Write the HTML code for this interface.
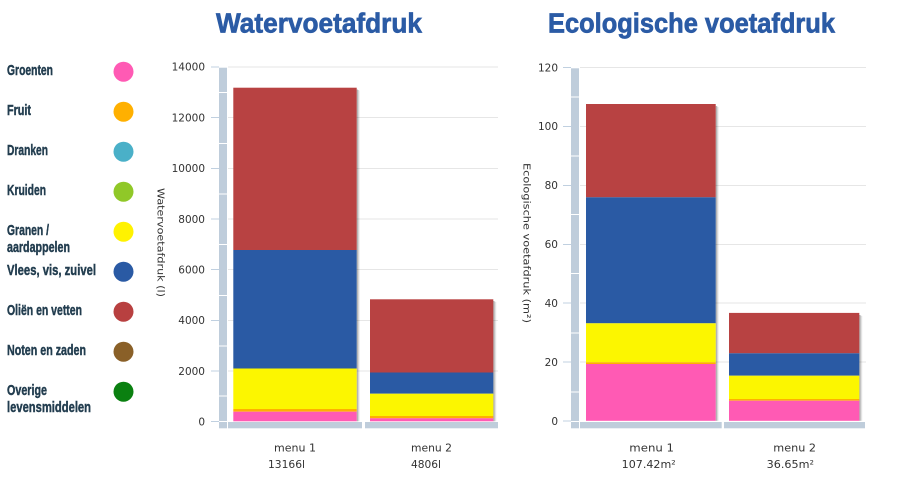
<!DOCTYPE html>
<html><head><meta charset="utf-8"><style>
html,body{margin:0;padding:0;background:#fff;}
svg{display:block;}
</style></head><body>
<svg width="916" height="495" viewBox="0 0 916 495" xmlns="http://www.w3.org/2000/svg">
<rect width="916" height="495" fill="#fff"/>
<!-- Titles -->
<g font-family="Liberation Sans, sans-serif" font-weight="bold" fill="#2b5ba5" stroke="#2b5ba5" stroke-width="0.7" font-size="28">
<text x="216" y="32.5" textLength="206" lengthAdjust="spacingAndGlyphs">Watervoetafdruk</text>
<text x="548" y="32.5" textLength="287" lengthAdjust="spacingAndGlyphs">Ecologische voetafdruk</text>
</g>
<!-- Legend -->
<g font-family="Liberation Sans, sans-serif" font-weight="bold" fill="#223d4f" stroke="#223d4f" stroke-width="0.45" font-size="15">
<text x="7" y="75" textLength="46" lengthAdjust="spacingAndGlyphs">Groenten</text>
<text x="7" y="115" textLength="24" lengthAdjust="spacingAndGlyphs">Fruit</text>
<text x="7" y="155" textLength="41" lengthAdjust="spacingAndGlyphs">Dranken</text>
<text x="7" y="195" textLength="39" lengthAdjust="spacingAndGlyphs">Kruiden</text>
<text x="7" y="235" textLength="42" lengthAdjust="spacingAndGlyphs">Granen /</text>
<text x="7" y="252" textLength="63" lengthAdjust="spacingAndGlyphs">aardappelen</text>
<text x="7" y="275" textLength="89" lengthAdjust="spacingAndGlyphs">Vlees, vis, zuivel</text>
<text x="7" y="315" textLength="75" lengthAdjust="spacingAndGlyphs">Oliën en vetten</text>
<text x="7" y="355" textLength="79" lengthAdjust="spacingAndGlyphs">Noten en zaden</text>
<text x="7" y="395" textLength="40" lengthAdjust="spacingAndGlyphs">Overige</text>
<text x="7" y="412" textLength="84" lengthAdjust="spacingAndGlyphs">levensmiddelen</text>
</g>
<g>
<circle cx="123.5" cy="71.7" r="10" fill="#ff5ab4"/>
<circle cx="123.5" cy="111.7" r="10" fill="#ffb000"/>
<circle cx="123.5" cy="151.7" r="10" fill="#4ab0c8"/>
<circle cx="123.5" cy="191.7" r="10" fill="#90c828"/>
<circle cx="123.5" cy="231.7" r="10" fill="#fff200"/>
<circle cx="123.5" cy="271.7" r="10" fill="#2a5aa4"/>
<circle cx="123.5" cy="311.7" r="10" fill="#b84040"/>
<circle cx="123.5" cy="351.7" r="10" fill="#8a6028"/>
<circle cx="123.5" cy="391.7" r="10" fill="#0a8010"/>
</g>

<!-- ===== Chart 1 ===== -->
<g stroke="#e6e6e6" stroke-width="1">
<line x1="228" y1="67" x2="498" y2="67"/>
<line x1="228" y1="117.5" x2="498" y2="117.5"/>
<line x1="228" y1="168.5" x2="498" y2="168.5"/>
<line x1="228" y1="219" x2="498" y2="219"/>
<line x1="228" y1="269.5" x2="498" y2="269.5"/>
<line x1="228" y1="320.5" x2="498" y2="320.5"/>
<line x1="228" y1="371" x2="498" y2="371"/>
</g>
<g stroke="#c0d0e0" stroke-width="1">
<line x1="211" y1="67" x2="219" y2="67"/>
<line x1="211" y1="117.5" x2="219" y2="117.5"/>
<line x1="211" y1="168.5" x2="219" y2="168.5"/>
<line x1="211" y1="219" x2="219" y2="219"/>
<line x1="211" y1="269.5" x2="219" y2="269.5"/>
<line x1="211" y1="320.5" x2="219" y2="320.5"/>
<line x1="211" y1="371" x2="219" y2="371"/>
<line x1="211" y1="421.5" x2="219" y2="421.5"/>
</g>
<rect x="219" y="67.7" width="8" height="360.6" fill="#bfcddb"/>
<g fill="#fff">
<rect x="219" y="92" width="8" height="1"/>
<rect x="219" y="143" width="8" height="1"/>
<rect x="219" y="193.5" width="8" height="1"/>
<rect x="219" y="244" width="8" height="1"/>
<rect x="219" y="295" width="8" height="1"/>
<rect x="219" y="345.5" width="8" height="1"/>
<rect x="219" y="395.5" width="8" height="1"/>
<rect x="219" y="421" width="8" height="1"/>
</g>
<rect x="228" y="422" width="134" height="6.3" fill="#bfcddb"/>
<rect x="365" y="422" width="133" height="6.3" fill="#bfcddb"/>
<g font-family="DejaVu Sans, sans-serif" font-size="10.5" fill="#333" text-anchor="end">
<text x="205" y="70.7">14000</text>
<text x="205" y="121.5">12000</text>
<text x="205" y="172.2">10000</text>
<text x="205" y="222.8">8000</text>
<text x="205" y="273.5">6000</text>
<text x="205" y="324.2">4000</text>
<text x="205" y="374.8">2000</text>
<text x="205" y="425.5">0</text>
</g>
<text transform="translate(157.5,242.5) rotate(90)" font-family="DejaVu Sans, sans-serif" font-size="10" fill="#333" text-anchor="middle" textLength="109" lengthAdjust="spacingAndGlyphs">Watervoetafdruk (l)</text>
<!-- bar 1 -->
<rect x="356.7" y="89.5" width="1" height="331.8" fill="rgba(0,0,0,0.35)"/>
<rect x="357.7" y="90" width="1" height="331.3" fill="rgba(0,0,0,0.2)"/>
<rect x="358.7" y="90.5" width="1" height="330.8" fill="rgba(0,0,0,0.08)"/>
<rect x="233.3" y="87.7" width="123.4" height="162.3" fill="#b84242"/>
<rect x="233.3" y="250" width="123.4" height="118.5" fill="#2a5aa4"/>
<rect x="233.3" y="368.5" width="123.4" height="40.5" fill="#fcf600"/>
<rect x="233.3" y="409" width="123.4" height="2.7" fill="#ffb000"/>
<rect x="233.3" y="411.7" width="123.4" height="9.6" fill="#ff5ab4"/>
<!-- bar 2 -->
<rect x="493.3" y="301" width="1" height="120.3" fill="rgba(0,0,0,0.35)"/>
<rect x="494.3" y="301.5" width="1" height="119.8" fill="rgba(0,0,0,0.2)"/>
<rect x="495.3" y="302" width="1" height="119.3" fill="rgba(0,0,0,0.08)"/>
<rect x="370" y="299.3" width="123.3" height="73.2" fill="#b84242"/>
<rect x="370" y="372.5" width="123.3" height="21.2" fill="#2a5aa4"/>
<rect x="370" y="393.7" width="123.3" height="22.3" fill="#fcf600"/>
<rect x="370" y="416" width="123.3" height="2.3" fill="#ffb000"/>
<rect x="370" y="418.3" width="123.3" height="3" fill="#ff5ab4"/>
<g font-family="DejaVu Sans, sans-serif" font-size="11" fill="#333">
<text x="274" y="451.5" textLength="42" lengthAdjust="spacingAndGlyphs">menu 1</text>
<text x="268" y="468" textLength="37" lengthAdjust="spacingAndGlyphs">13166l</text>
<text x="411" y="451.5" textLength="41" lengthAdjust="spacingAndGlyphs">menu 2</text>
<text x="411" y="468" textLength="30" lengthAdjust="spacingAndGlyphs">4806l</text>
</g>

<!-- ===== Chart 2 ===== -->
<g stroke="#e6e6e6" stroke-width="1">
<line x1="580" y1="67.5" x2="866" y2="67.5"/>
<line x1="580" y1="126.5" x2="866" y2="126.5"/>
<line x1="580" y1="185.5" x2="866" y2="185.5"/>
<line x1="580" y1="244.5" x2="866" y2="244.5"/>
<line x1="580" y1="303" x2="866" y2="303"/>
<line x1="580" y1="362" x2="866" y2="362"/>
</g>
<g stroke="#c0d0e0" stroke-width="1">
<line x1="563" y1="67.5" x2="571" y2="67.5"/>
<line x1="563" y1="126.5" x2="571" y2="126.5"/>
<line x1="563" y1="185.5" x2="571" y2="185.5"/>
<line x1="563" y1="244.5" x2="571" y2="244.5"/>
<line x1="563" y1="303" x2="571" y2="303"/>
<line x1="563" y1="362" x2="571" y2="362"/>
<line x1="563" y1="421" x2="571" y2="421"/>
</g>
<rect x="571" y="68.3" width="8" height="360" fill="#bfcddb"/>
<g fill="#fff">
<rect x="571" y="96.5" width="8" height="1"/>
<rect x="571" y="155.5" width="8" height="1"/>
<rect x="571" y="214" width="8" height="1"/>
<rect x="571" y="273" width="8" height="1"/>
<rect x="571" y="332.5" width="8" height="1"/>
<rect x="571" y="391.5" width="8" height="1"/>
<rect x="571" y="421" width="8" height="1"/>
</g>
<rect x="580" y="422" width="141.7" height="6.3" fill="#bfcddb"/>
<rect x="724" y="422" width="141" height="6.3" fill="#bfcddb"/>
<g font-family="DejaVu Sans, sans-serif" font-size="10.5" fill="#333" text-anchor="end">
<text x="558" y="71.3">120</text>
<text x="558" y="130.2">100</text>
<text x="558" y="189.1">80</text>
<text x="558" y="248">60</text>
<text x="558" y="306.9">40</text>
<text x="558" y="365.8">20</text>
<text x="558" y="424.8">0</text>
</g>
<text transform="translate(523.5,243) rotate(90)" font-family="DejaVu Sans, sans-serif" font-size="10" fill="#333" text-anchor="middle" textLength="160" lengthAdjust="spacingAndGlyphs">Ecologische voetafdruk  (m²)</text>
<!-- bar 1 -->
<rect x="715.7" y="106" width="1" height="314.8" fill="rgba(0,0,0,0.35)"/>
<rect x="716.7" y="106.5" width="1" height="314.3" fill="rgba(0,0,0,0.2)"/>
<rect x="717.7" y="107" width="1" height="313.8" fill="rgba(0,0,0,0.08)"/>
<rect x="586" y="104" width="129.7" height="93.3" fill="#b84242"/>
<rect x="586" y="197.3" width="129.7" height="126" fill="#2a5aa4"/>
<rect x="586" y="323.3" width="129.7" height="39" fill="#fcf600"/>
<rect x="586" y="362.3" width="129.7" height="1.7" fill="#ffb000"/>
<rect x="586" y="364" width="129.7" height="56.8" fill="#ff5ab4"/>
<!-- bar 2 -->
<rect x="859.3" y="315" width="1" height="105.8" fill="rgba(0,0,0,0.35)"/>
<rect x="860.3" y="315.5" width="1" height="105.3" fill="rgba(0,0,0,0.2)"/>
<rect x="861.3" y="316" width="1" height="104.8" fill="rgba(0,0,0,0.08)"/>
<rect x="729" y="312.9" width="130.3" height="40.4" fill="#b84242"/>
<rect x="729" y="353.3" width="130.3" height="22.4" fill="#2a5aa4"/>
<rect x="729" y="375.7" width="130.3" height="23.3" fill="#fcf600"/>
<rect x="729" y="399" width="130.3" height="1.7" fill="#ffb000"/>
<rect x="729" y="400.7" width="130.3" height="20.1" fill="#ff5ab4"/>
<g font-family="DejaVu Sans, sans-serif" font-size="11" fill="#333">
<text x="629.3" y="451.5" textLength="44.7" lengthAdjust="spacingAndGlyphs">menu 1</text>
<text x="621.7" y="468" textLength="54" lengthAdjust="spacingAndGlyphs">107.42m²</text>
<text x="773.3" y="451.5" textLength="42.7" lengthAdjust="spacingAndGlyphs">menu 2</text>
<text x="766.7" y="468" textLength="47.3" lengthAdjust="spacingAndGlyphs">36.65m²</text>
</g>
</svg>
</body></html>
